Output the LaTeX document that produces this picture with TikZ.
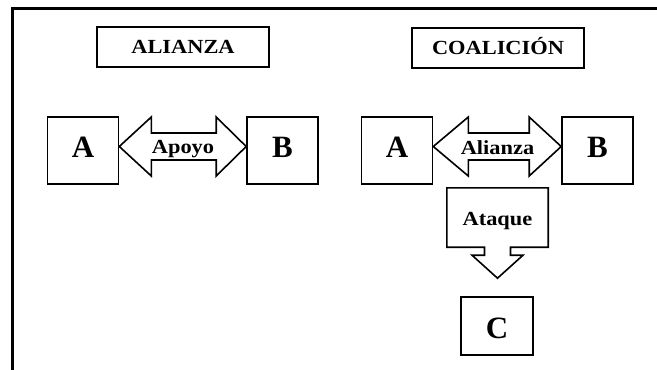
\documentclass[tikz,border=0pt]{standalone}
\usepackage{fontspec}
\setmainfont{Liberation Serif}
\newfontfamily\wide[FakeStretch=1.12]{Liberation Serif}
\usetikzlibrary{calc}

\begin{document}
\begin{tikzpicture}[x=1pt,y=-1pt,
    box/.style={draw,line width=1.6pt,inner sep=0},
    letter/.style={box,minimum width=71pt,minimum height=67pt,text height=20.5pt,text depth=7.5pt,font=\fontsize{31}{31}\selectfont\bfseries},
    title/.style={box,minimum width=172pt,minimum height=40pt,text height=13pt,text depth=0pt,font=\wide\fontsize{20}{20}\selectfont\bfseries},
    lbl/.style={inner sep=0,anchor=base,font=\wide\fontsize{20}{20}\selectfont\bfseries},
    blk/.style={draw,line width=1.6pt,line join=miter}]

\useasboundingbox (0,0) rectangle (657,370);
% frame
\draw[line width=3pt] (12,370) -- (12,8) -- (657,8);

% titles
\node[title] (tAlianza) at (183,47) {ALIANZA};
\node[title] (tCoalicion) at (498,48) {COALICIÓN};

% alianza
\node[letter] (a1) at (83,150.5) {A};
\node[letter] (b1) at (282.5,150.5) {B};
\draw[blk] ($(a1.east)+(0,-4)$) -- ++(32,-29.5) -- ++(0,16) -- ($(b1.west)+(-30,-17.5)$) -- ++(0,-16) -- ($(b1.west)+(0,-4)$)
    -- ++(-30,29.5) -- ++(0,-16) -- ($(a1.east)+(32,9.5)$) -- ++(0,16) -- cycle;
\node[lbl] (apoyo) at (183,153) {Apoyo};

% coalicion
\node[letter] (a2) at (397,150.5) {A};
\node[letter] (b2) at (597.5,150.5) {B};
\draw[blk] ($(a2.east)+(0,-4)$) -- ++(35,-29.5) -- ++(0,16) -- ($(b2.west)+(-32,-17.5)$) -- ++(0,-16) -- ($(b2.west)+(0,-4)$)
    -- ++(-32,29.5) -- ++(0,-16) -- ($(a2.east)+(35,9.5)$) -- ++(0,16) -- cycle;
\node[lbl] (alianza) at (497.5,154) {Alianza};

\node[inner sep=0,minimum width=101pt,minimum height=59pt] (ataque) at (497.5,217.5) {};
\node[lbl] at (497.5,225) {Ataque};
\draw[blk] ($(ataque.south)+(-13,0)$) -- (ataque.south west) -- (ataque.north west) -- (ataque.north east) -- (ataque.south east)
    -- ($(ataque.south)+(13,0)$) -- ++(0,8) -- ++(12.5,0) -- ($(ataque.south)+(0,31)$) -- ($(ataque.south)+(-25.5,8)$) -- ++(12.5,0) -- cycle;

\node[letter,minimum width=72pt,minimum height=58pt,text height=24pt,text depth=0pt] (c2) at (497,326) {C};

\end{tikzpicture}
\end{document}
